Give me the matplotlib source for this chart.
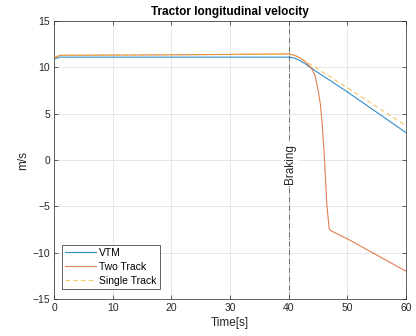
"""Tractor longitudinal velocity: VTM vs two-track vs single-track models."""

import matplotlib

matplotlib.use("Agg")

import matplotlib.pyplot as plt

plt.rcParams["font.family"] = ["Liberation Sans", "DejaVu Sans"]

# time [s] / velocity [m/s]
vtm_t = [0, 1, 2, 40, 41, 42, 43, 44, 50, 60]
vtm_v = [10.9, 11.1, 11.1, 11.1, 11.0, 10.7, 10.3, 9.85, 7.35, 2.95]

two_t = [0, 1, 20, 40, 41, 42, 43, 44, 44.5, 45.0, 45.4, 45.7, 46.0, 46.2, 46.5, 46.9, 47.1, 50, 60]
two_v = [11.0, 11.3, 11.35, 11.45, 11.3, 11.0, 10.5, 9.8, 9.1, 7.6, 6.0, 4.0, 1.2, -1.1, -4.8, -7.4, -7.6, -8.5, -12.0]

single_t = [0, 1, 40, 41, 42, 43, 44, 50, 60]
single_v = [11.1, 11.3, 11.4, 11.3, 11.0, 10.6, 10.2, 7.8, 3.7]

braking_time = 40
x_ticks = [0, 10, 20, 30, 40, 50, 60]
y_ticks = [-15, -10, -5, 0, 5, 10, 15]


def main() -> None:
    fig = plt.figure(figsize=(4.16, 3.36), dpi=100)
    ax = fig.add_axes([0.13, 0.110, 0.846, 0.8275])

    ax.axvline(braking_time, color="#555555", lw=0.6, ls="-.", zorder=1.5)
    ax.text(braking_time + 0.15, -0.4, "Braking", rotation=90, ha="center", va="center",
            fontsize=8.5, color="#262626", zorder=1.6,
            bbox=dict(facecolor="white", edgecolor="none", pad=1.5))

    ax.plot(vtm_t, vtm_v, color="#0072BD", lw=0.8, alpha=0.8, label="VTM", zorder=3)
    ax.plot(two_t, two_v, color="#D95319", lw=0.8, alpha=0.75, label="Two Track", zorder=3)
    ax.plot(single_t, single_v, color="#EDB120", lw=0.8, alpha=0.7, ls=(0, (4, 3)),
            label="Single Track", zorder=4)

    ax.set_xlim(0, 60)
    ax.set_ylim(-15, 15)
    ax.set_xticks(x_ticks)
    ax.set_yticks(y_ticks)
    ax.tick_params(direction="in", length=3, width=0.5, labelsize=7.5, colors="#262626",
                   top=True, right=True, pad=3)
    for spine in ax.spines.values():
        spine.set_color("#262626")
        spine.set_linewidth(0.5)
    ax.grid(color="#E3E3E3", lw=0.6)
    ax.set_axisbelow(True)

    ax.set_title("Tractor longitudinal velocity", fontsize=8.5, fontweight="bold", pad=4)
    ax.set_xlabel("Time[s]", fontsize=8.5, color="#262626", labelpad=3)
    ax.set_ylabel("m/s", fontsize=8.5, color="#262626", labelpad=2)

    leg = ax.legend(loc="lower left", bbox_to_anchor=(0.022, 0.036), fontsize=7.5,
                    fancybox=False, framealpha=1, edgecolor="#262626", borderpad=0.3,
                    labelspacing=0.38, handlelength=3.0, handletextpad=0.3, borderaxespad=0)
    leg.get_frame().set_linewidth(0.5)

    fig.savefig("out.png", dpi=100)
    plt.close(fig)


if __name__ == "__main__":
    main()
